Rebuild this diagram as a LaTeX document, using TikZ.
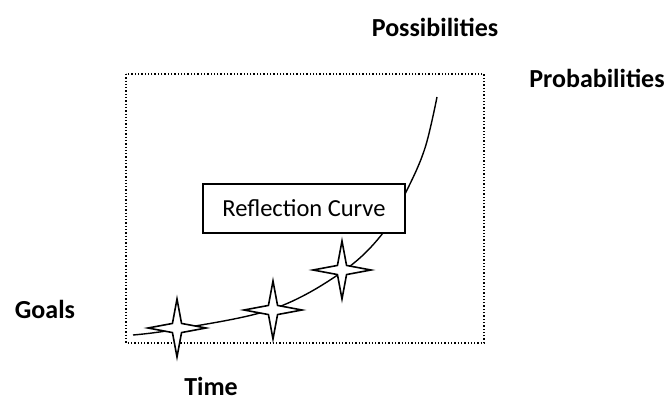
\documentclass[tikz,border=0pt]{standalone}
\usepackage{fontspec}
\setmainfont{Carlito}
\usetikzlibrary{shapes.geometric}
\begin{document}
\begin{tikzpicture}[x=1pt,y=-1pt,
  lbl/.style={font=\bfseries\fontsize{26}{30}\selectfont, inner sep=0pt},
  starnode/.style={star, star points=4, star point ratio=4.5, minimum size=58pt, inner sep=0pt, draw, line width=1.6pt, fill=white},
  framebox/.style={draw, line width=1.3pt, dotted},
  curveline/.style={line width=1.4pt},
  refbox/.style={draw, line width=1.2pt, fill=white, minimum width=202pt, minimum height=49pt, font=\fontsize{24.5}{28}\selectfont}]
\useasboundingbox (0,0) rectangle (667,403);
\draw[framebox] (126,74) rectangle (484,343);
\coordinate (c0) at (133,335);
\coordinate (c1) at (178,329);
\coordinate (c2) at (273,309);
\coordinate (c3) at (342,272);
\coordinate (c4) at (383,233);
\coordinate (c5) at (407,190);
\coordinate (c6) at (425,148);
\coordinate (c7) at (437,97);
\draw[curveline] plot[smooth, tension=0.6] coordinates {(c0) (c1) (c2) (c3) (c4) (c5) (c6) (c7)};
\node[starnode] (s1) at (177,328) {};
\node[starnode] (s2) at (273,310) {};
\node[starnode] (s3) at (342,270) {};
\node[refbox] (rc) at (304,208.5) {Reflection Curve};
\node[lbl] (poss) at (435,27) {Possibilities};
\node[lbl] (prob) at (597,78) {Probabilities};
\node[lbl] (goals) at (45,309) {Goals};
\node[lbl] (time) at (211,386) {Time};
\end{tikzpicture}
\end{document}
